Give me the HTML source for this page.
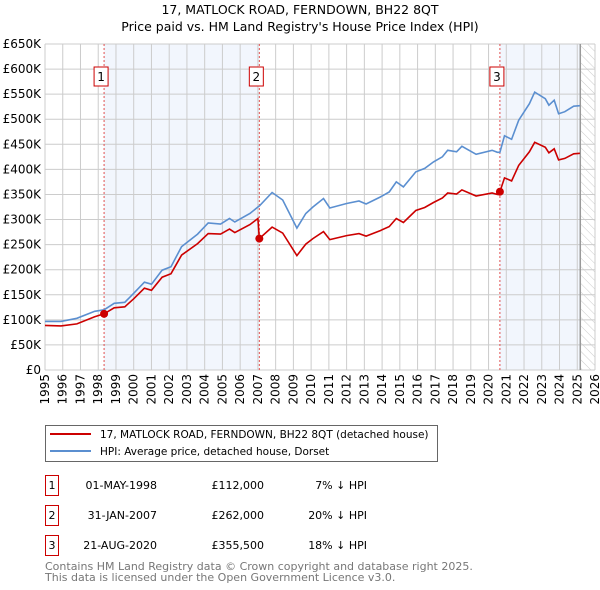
<!DOCTYPE html>
<html><head><meta charset="utf-8"><style>
body{margin:0;background:#fff;width:600px;height:590px;overflow:hidden;font-family:"DejaVu Sans","Liberation Sans",sans-serif}
svg{position:absolute;left:0;top:0}
</style></head><body>
<svg id="c" width="600" height="590"></svg>
<script>
const hpiYears=[1995.0,1995.9,1996.8,1997.8,1998.33,1998.9,1999.5,2000.0,2000.6,2001.0,2001.6,2002.1,2002.7,2003.6,2004.2,2004.9,2005.4,2005.7,2006.55,2007.0,2007.08,2007.8,2008.4,2009.2,2009.7,2010.1,2010.7,2011.05,2012.0,2012.7,2013.1,2013.9,2014.4,2014.8,2015.2,2015.9,2016.4,2016.9,2017.4,2017.7,2018.2,2018.5,2019.3,2020.2,2020.5,2020.64,2020.9,2021.3,2021.7,2022.3,2022.6,2023.2,2023.4,2023.7,2023.95,2024.3,2024.8,2025.15];
const hpiValues=[97,97,103,117,120,133,135,153,175,171,199,206,246,271,293,291,302,295,312,325,327,354,339,283,312,325,342,323,332,337,331,345,355,375,365,395,402,415,425,438,435,446,430,438,434,434,467,460,498,531,554,541,528,538,511,515,526,527];
const redYears=[1995.0,1995.9,1996.8,1997.8,1998.33,1998.9,1999.5,2000.0,2000.6,2001.0,2001.6,2002.1,2002.7,2003.6,2004.2,2004.9,2005.4,2005.7,2006.55,2007.0,2007.08,2007.8,2008.4,2009.2,2009.7,2010.1,2010.7,2011.05,2012.0,2012.7,2013.1,2013.9,2014.4,2014.8,2015.2,2015.9,2016.4,2016.9,2017.4,2017.7,2018.2,2018.5,2019.3,2020.2,2020.5,2020.64,2020.9,2021.3,2021.7,2022.3,2022.6,2023.2,2023.4,2023.7,2023.95,2024.3,2024.8,2025.15];
const redValues=[89,88,92,106,112,124,126,142,163,159,185,192,229,252,272,271,281,274,290,302,262,285,273,228,251,262,276,260,268,272,267,278,286,302,294,318,324,334,343,353,351,359,347,353,350,355.5,383,377,408,435,454,444,433,441,419,422,431,432];
const saleYears=[1998.33,2007.08,2020.64];
const salePrices=[112,262,355.5];
const saleLabels=["1","2","3"];
const yTicks=[0,50,100,150,200,250,300,350,400,450,500,550,600,650];
const yTickLabels=["£0","£50K","£100K","£150K","£200K","£250K","£300K","£350K","£400K","£450K","£500K","£550K","£600K","£650K"];
const xTicks=[1995,1996,1997,1998,1999,2000,2001,2002,2003,2004,2005,2006,2007,2008,2009,2010,2011,2012,2013,2014,2015,2016,2017,2018,2019,2020,2021,2022,2023,2024,2025,2026];

const L=45,R=595,T=44,B=370,dataEnd=2025.17;
const X=y=>L+(y-1995)/(2026-1995)*(R-L);
const Y=v=>B-v/650*(B-T);
const svg=document.getElementById('c');
const NS='http://www.w3.org/2000/svg';
function mk(tag,attrs,parent){const e=document.createElementNS(NS,tag);for(const k in attrs)e.setAttribute(k,attrs[k]);(parent||svg).appendChild(e);return e;}

const defs=mk('defs',{});
const pat=mk('pattern',{id:'hatch',width:6,height:6,patternUnits:'userSpaceOnUse',patternTransform:'rotate(-45)'},defs);
mk('line',{x1:0,y1:0,x2:0,y2:6,stroke:'#ccc','stroke-width':1},pat);

let s=mk('rect',{x:X(saleYears[0]),y:T,width:X(saleYears[1])-X(saleYears[0]),height:B-T,fill:'#f2f6fd'});


s=mk('rect',{x:X(saleYears[2]),y:T,width:X(dataEnd)-X(saleYears[2]),height:B-T,fill:'#f2f6fd'});


s=mk('rect',{x:X(dataEnd),y:T,width:R-X(dataEnd),height:B-T,fill:'url(#hatch)'});



yTicks.forEach((v,i)=>{
  const g=mk('line',{x1:L,x2:R,y1:Y(v),y2:Y(v),stroke:'#ccc','stroke-width':1});
  
  
  const t=mk('text',{x:L-4,y:Y(v)+4,'text-anchor':'end','font-size':12,fill:'#000'});
  t.textContent=yTickLabels[i];
  
  
});
xTicks.forEach(yr=>{
  const g=mk('line',{x1:X(yr),x2:X(yr),y1:T,y2:B,stroke:'#ccc','stroke-width':1});
  
  
  const tx=X(yr)+4,ty=374;
  const t=mk('text',{x:tx,y:ty,'text-anchor':'end','font-size':12,fill:'#000',transform:`rotate(-90 ${tx} ${ty})`});
  t.textContent=yr;
  
  
});
const eline=mk('line',{x1:X(dataEnd),x2:X(dataEnd),y1:T,y2:B,stroke:'#999','stroke-width':1.5});



saleYears.forEach((yr,i)=>{
  const l=mk('line',{x1:X(yr),x2:X(yr),y1:T,y2:B,stroke:'#e05050','stroke-width':1,'stroke-dasharray':'2,2'});
  
  
  const r=mk('rect',{x:X(yr)-10,y:67,width:14,height:19,fill:'#fff',stroke:'#cc0000','stroke-width':1});
  
  
  const t=mk('text',{x:X(yr)-3,y:81,'text-anchor':'middle','font-size':12,fill:'#000'});
  t.textContent=saleLabels[i];
  
  
});

function path(xs,vs){return xs.map((x,i)=>(i?'L':'M')+X(x).toFixed(1)+','+Y(vs[i]).toFixed(1)).join(' ');}
const hp=mk('path',{d:path(hpiYears,hpiValues),fill:'none',stroke:'#5b8fd0','stroke-width':1.6});


const rp=mk('path',{d:path(redYears,redValues),fill:'none',stroke:'#cc0000','stroke-width':1.6});


saleYears.forEach((yr,i)=>{
  const c=mk('circle',{cx:X(yr),cy:Y(salePrices[i]),r:4,fill:'#cc0000'});
  
  
});

[['17, MATLOCK ROAD, FERNDOWN, BH22 8QT',14],['Price paid vs. HM Land Registry\'s House Price Index (HPI)',31]].forEach((a,i)=>{
  const t=mk('text',{x:300,y:a[1],'text-anchor':'middle','font-size':12.5,fill:'#000'});
  t.textContent=a[0];
  
  
});

const lg=mk('rect',{x:45.5,y:425.5,width:392,height:36,fill:'#fff',stroke:'#666','stroke-width':1});


[['#cc0000','17, MATLOCK ROAD, FERNDOWN, BH22 8QT (detached house)',434],['#5b8fd0','HPI: Average price, detached house, Dorset',451]].forEach((a,i)=>{
  const l=mk('line',{x1:50,x2:91,y1:a[2],y2:a[2],stroke:a[0],'stroke-width':2});
  
  
  const t=mk('text',{x:100,y:a[2]+4,'font-size':10.5,fill:'#000'});
  t.textContent=a[1];
  
  
});

const rows=[['1','01-MAY-1998','£112,000','7% ↓ HPI'],['2','31-JAN-2007','£262,000','20% ↓ HPI'],['3','21-AUG-2020','£355,500','18% ↓ HPI']];
rows.forEach((r,i)=>{
  const y=475+i*30;
  const b=mk('rect',{x:45.5,y:y+0.5,width:13,height:20,fill:'#fff',stroke:'#cc0000','stroke-width':1});
  
  
  const t0=mk('text',{x:52,y:y+14,'text-anchor':'middle','font-size':11});t0.textContent=r[0];
  
  
  const t1=mk('text',{x:157,y:y+14,'text-anchor':'end','font-size':11});t1.textContent=r[1];
  
  
  const t2=mk('text',{x:264,y:y+14,'text-anchor':'end','font-size':11});t2.textContent=r[2];
  
  
  const t3=mk('text',{x:367,y:y+14,'text-anchor':'end','font-size':11});t3.textContent=r[3];
  
  
});
[['Contains HM Land Registry data © Crown copyright and database right 2025.',570],['This data is licensed under the Open Government Licence v3.0.',581]].forEach(a=>{
  const t=mk('text',{x:45,y:a[1],'font-size':11,fill:'#777'});
  t.textContent=a[0];
  
  
});
</script>
</body></html>
